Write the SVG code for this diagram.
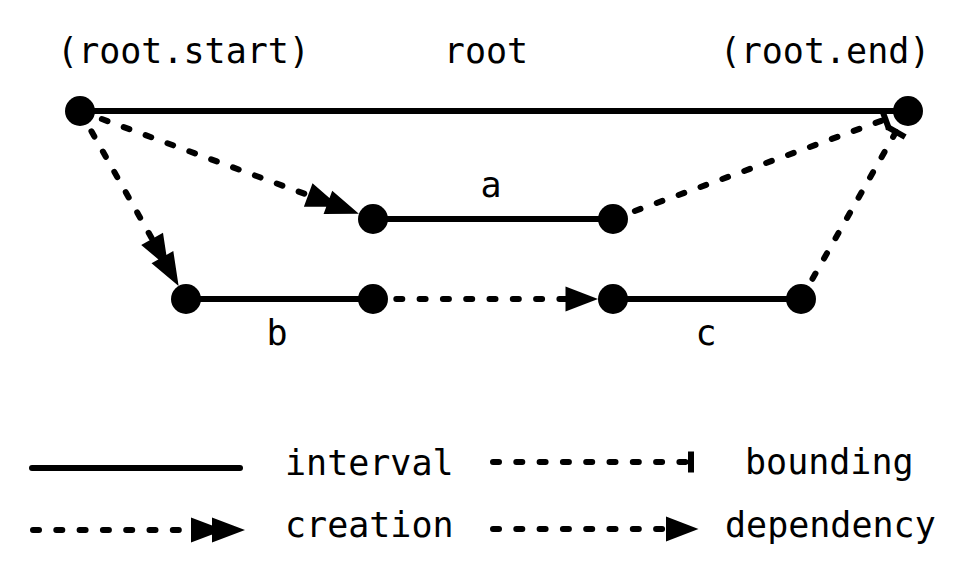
<svg xmlns="http://www.w3.org/2000/svg" width="965" height="570" viewBox="0 0 965 570">
<style>
.t{font-family:"DejaVu Sans Mono","Liberation Mono",monospace;font-size:35px;fill:#000}
.m{text-anchor:middle}
.solid{stroke:#000;stroke-width:6;fill:none;stroke-linecap:round}
.dash{stroke:#000;stroke-width:6;fill:none;stroke-linecap:round;stroke-dasharray:6 17.3}
.node{fill:#000}
</style>
<defs>
<marker id="dbl" markerUnits="userSpaceOnUse" orient="auto" refX="0" refY="0" markerWidth="60" markerHeight="30" overflow="visible">
<path d="M0,-12.5 L33,0 L0,12.5 Z M21,-12.5 L54,0 L21,12.5 Z" fill="#000"/>
</marker>
<marker id="arr" markerUnits="userSpaceOnUse" orient="auto" refX="0" refY="0" markerWidth="40" markerHeight="30" overflow="visible">
<path d="M0,-12.5 L32.5,0 L0,12.5 Z" fill="#000"/>
</marker>
<marker id="bar" markerUnits="userSpaceOnUse" orient="auto" refX="0" refY="0" markerWidth="10" markerHeight="24" overflow="visible">
<rect x="-3" y="-10.5" width="6" height="21" fill="#000"/>
</marker>
</defs>
<g id="connectors">
<line class="solid" x1="80" y1="111" x2="908" y2="111"/>
<line class="solid" x1="373" y1="219" x2="613" y2="219"/>
<line class="solid" x1="186" y1="299" x2="373" y2="299"/>
<line class="solid" x1="613" y1="299" x2="801" y2="299"/>
<path class="dash" d="M80,111 L308.2,195.1" marker-end="url(#dbl)"/>
<path class="dash" d="M80,111 L152.1,238.9" marker-end="url(#dbl)"/>
<path class="dash" d="M373,299 L565.5,299" marker-end="url(#arr)"/>
<path class="dash" d="M613,219 L885.5,119.3" marker-end="url(#bar)"/>
<path class="dash" d="M801,299 L896,131.8" marker-end="url(#bar)"/>
</g>
<g id="root_start"><circle class="node" cx="80" cy="111" r="15"/><text class="t m" x="183.5" y="63">(root.start)</text></g>
<g id="root_label"><text class="t m" x="486" y="63">root</text></g>
<g id="root_end"><circle class="node" cx="908" cy="111" r="15"/><text class="t m" x="825" y="63">(root.end)</text></g>
<g id="a_start"><circle class="node" cx="373" cy="219" r="15"/></g>
<g id="a_end"><circle class="node" cx="613" cy="219" r="15"/></g>
<g id="a_label"><text class="t m" x="491" y="197">a</text></g>
<g id="b_start"><circle class="node" cx="186" cy="299" r="15"/></g>
<g id="b_end"><circle class="node" cx="373" cy="299" r="15"/></g>
<g id="b_label"><text class="t m" x="277" y="345">b</text></g>
<g id="c_start"><circle class="node" cx="613" cy="299" r="15"/></g>
<g id="c_end"><circle class="node" cx="801" cy="299" r="15"/></g>
<g id="c_label"><text class="t m" x="706" y="345">c</text></g>
<g id="legend">
<line class="solid" x1="32" y1="468" x2="240" y2="468"/>
<text class="t" x="285" y="475">interval</text>
<path class="dash" d="M33,530 L191,530" marker-end="url(#dbl)"/>
<text class="t" x="285" y="537">creation</text>
<path class="dash" d="M493,462 L691,462" marker-end="url(#bar)"/>
<text class="t" x="745" y="474">bounding</text>
<path class="dash" d="M493,529 L666,529" marker-end="url(#arr)"/>
<text class="t" x="725" y="537">dependency</text>
</g>
</svg>
